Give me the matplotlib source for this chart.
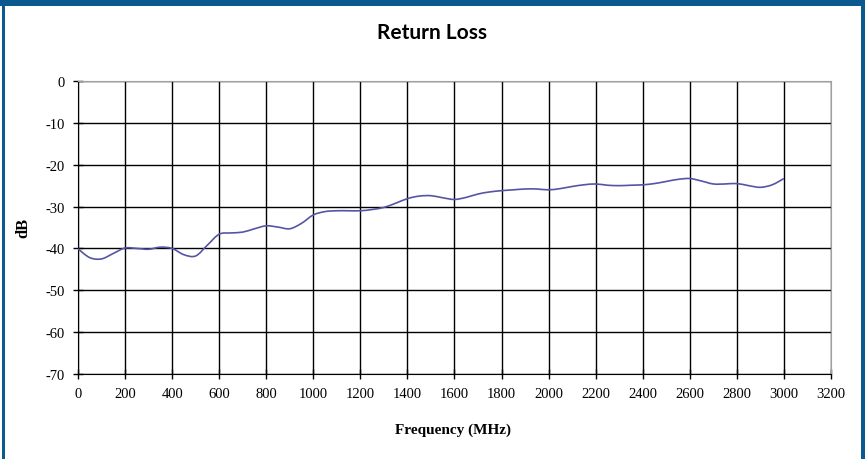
import matplotlib
matplotlib.use("Agg")
import matplotlib.pyplot as plt
import numpy as np
from matplotlib.patches import Rectangle, PathPatch
from matplotlib.path import Path

# Return loss readings (MHz, dB)
freq_mhz = [0, 50, 100, 150, 200, 250, 300, 350, 400, 450, 500, 550, 600, 650,
            700, 750, 800, 850, 900, 950, 1000, 1050, 1100, 1150, 1200, 1250,
            1300, 1350, 1400, 1450, 1500, 1550, 1600, 1650, 1700, 1750, 1800,
            1850, 1900, 1950, 2000, 2050, 2100, 2150, 2200, 2250, 2300, 2350,
            2400, 2450, 2500, 2550, 2600, 2650, 2700, 2750, 2800, 2850, 2900,
            2950, 3000]
return_loss_db = [-40.1, -42.2, -42.5, -41.2, -39.9, -40.0, -40.2, -39.7, -40.0,
                  -41.5, -41.8, -39.2, -36.6, -36.3, -36.1, -35.3, -34.6, -34.9,
                  -35.3, -34.0, -32.0, -31.2, -31.0, -31.0, -31.0, -30.7, -30.2,
                  -29.2, -28.1, -27.5, -27.4, -27.9, -28.3, -27.8, -27.0, -26.5,
                  -26.2, -26.0, -25.8, -25.8, -26.0, -25.7, -25.2, -24.8, -24.6,
                  -24.9, -25.0, -24.9, -24.8, -24.5, -24.0, -23.5, -23.3, -23.9,
                  -24.6, -24.6, -24.5, -25.0, -25.4, -24.8, -23.3]

x_ticks = list(range(0, 3201, 200))
y_ticks = list(range(-70, 1, 10))


def smooth_path(xs, ys):
    """Excel-style smoothed line: cubic bezier segments through every point."""
    p = np.column_stack([xs, ys]).astype(float)
    verts = [p[0]]
    codes = [Path.MOVETO]
    for i in range(len(p) - 1):
        p0 = p[i - 1] if i > 0 else p[i]
        p3 = p[i + 2] if i + 2 < len(p) else p[i + 1]
        c1 = p[i] + (p[i + 1] - p0) / 6
        c2 = p[i + 1] - (p3 - p[i]) / 6
        verts += [c1, c2, p[i + 1]]
        codes += [Path.CURVE4] * 3
    return Path(verts, codes)


fig = plt.figure(figsize=(8.65, 4.6), dpi=100)
fig.patch.set_facecolor("white")

# blue frame round the chart
frame = "#0b5a8f"
fig.add_artist(Rectangle((0, 1 - 7 / 460), 1, 7 / 460, transform=fig.transFigure,
                         color=frame, lw=0))
fig.add_artist(Rectangle((0.002, 0), 3 / 865, 1, transform=fig.transFigure,
                         color=frame, lw=0))
fig.add_artist(Rectangle((1 - 4 / 865, 0), 4 / 865, 1, transform=fig.transFigure,
                         color=frame, lw=0))

ax = fig.add_axes([78 / 865, 1 - 375 / 460, (831 - 78) / 865, (375 - 82) / 460])
ax.add_patch(PathPatch(smooth_path(freq_mhz, return_loss_db), facecolor="none",
                       edgecolor="#5555a5", linewidth=1.2, zorder=3))

ax.set_xlim(0, 3200)
ax.set_ylim(-70, 0)
ax.set_xticks(x_ticks)
ax.set_yticks(y_ticks)
ax.set_xticklabels([str(t) for t in x_ticks])
ax.set_yticklabels([str(t) for t in y_ticks])
ax.grid(True, color="black", linewidth=1.0)
ax.set_axisbelow(True)

for side in ("top", "right"):
    ax.spines[side].set_color("#a0a0a0")
for side in ("left", "bottom"):
    ax.spines[side].set_color("black")

serif = ["Liberation Serif", "DejaVu Serif"]
ax.tick_params(direction="inout", length=7, width=1, colors="black",
               labelsize=10.5, pad=6)
for lbl in ax.get_xticklabels() + ax.get_yticklabels():
    lbl.set_fontfamily(serif)

fig.text(23 / 865, 1 - 228 / 460, "dB", rotation=90, ha="center", va="center",
         fontsize=12, fontweight="bold", family=serif)
fig.text(453 / 865, 1 - 430 / 460, "Frequency (MHz)", ha="center", va="center",
         fontsize=11, fontweight="bold", family=serif)
fig.text(432 / 865, 1 - 33 / 460, "Return Loss", ha="center", va="center",
         fontsize=15, fontweight="bold", family=["Lato", "DejaVu Sans"])

fig.savefig("out.png", dpi=100)
